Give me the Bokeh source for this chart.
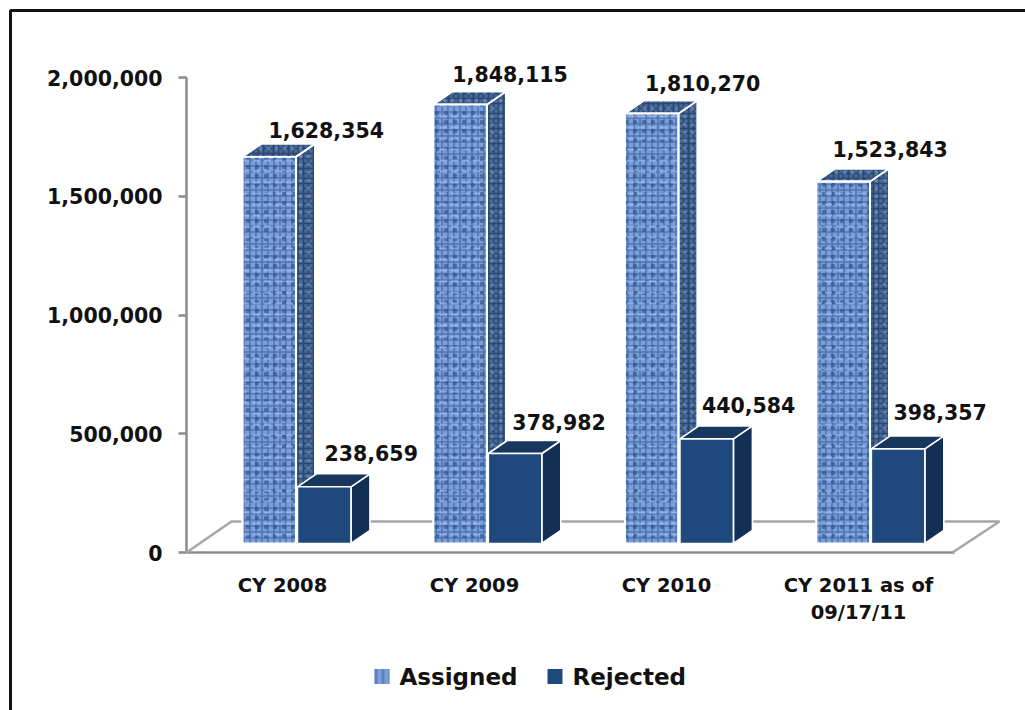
from bokeh.plotting import figure
from bokeh.embed import file_html
from bokeh.resources import INLINE
from bokeh.core.properties import value
from bokeh.models import ColumnDataSource, FixedTicker, NumeralTickFormatter, Range1d

categories = ["CY 2008", "CY 2009", "CY 2010", "CY 2011 as of\n09/17/11"]
assigned = [1628354, 1848115, 1810270, 1523843]
rejected = [238659, 378982, 440584, 398357]
y_ticks = [0, 500000, 1000000, 1500000, 2000000]
series_names = ["Assigned", "Rejected"]

PX_Y = 2000000 / 475      # data units per pixel, y
PX_X = 4 / 768            # data units per pixel, x
BASE = 9 * PX_Y           # front face is lifted off the axis
DX, DY = 19 * PX_X, 13 * PX_Y
FDX, FDY = 45 * PX_X, 31 * PX_Y
BAR = 53.5 * PX_X
GROUP = [0.574, 0.568, 0.566, 0.563]   # centre of each bar pair inside its category
GAP = 1.5 * PX_X

p = figure(width=1025, height=710, output_backend="svg", toolbar_location=None,
           x_range=Range1d(0, 4), y_range=Range1d(0, 2000000),
           min_border_left=186, min_border_right=71, min_border_top=77, min_border_bottom=158,
           background_fill_color="white", border_fill_color="white", outline_line_color=None)
p.grid.visible = False

FONT = "DejaVu Sans"
AXIS = "#8c8c8c"

p.yaxis.ticker = FixedTicker(ticks=y_ticks)
p.yaxis.formatter = NumeralTickFormatter(format="0,0")
p.yaxis.major_label_text_font = FONT
p.yaxis.major_label_text_font_size = "20.5px"
p.yaxis.major_label_text_font_style = "bold"
p.yaxis.major_label_text_color = "#111111"
p.yaxis.major_label_standoff = 16
p.yaxis.major_tick_out = 8
p.yaxis.major_tick_in = 0
p.yaxis.minor_tick_line_color = None

centres = [i + 0.5 for i in range(len(categories))]
p.xaxis.ticker = FixedTicker(ticks=centres, minor_ticks=list(range(len(categories) + 1)))
p.xaxis.major_label_overrides = dict(zip(centres, categories))
p.xaxis.major_label_text_font = FONT
p.xaxis.major_label_text_font_size = "19.5px"
p.xaxis.major_label_text_font_style = "bold"
p.xaxis.major_label_text_color = "#111111"
p.xaxis.major_label_standoff = 12
p.xaxis.major_tick_line_color = None
p.xaxis.minor_tick_out = 9
p.xaxis.minor_tick_in = 0
for ax in (p.xaxis, p.yaxis):
    ax.axis_line_color = AXIS
    ax.axis_line_width = 2.5
    ax.minor_tick_line_color = AXIS if ax is p.xaxis else None
    ax.minor_tick_line_width = 2.5
    ax.major_tick_line_width = 2.5
p.yaxis.major_tick_line_color = AXIS

# chart-area border: runs along the top and left of the picture
p.line([(10 - 186) * PX_X, (10 - 186) * PX_X, (1025 - 186) * PX_X],
       [(552 - 710) * PX_Y, (552 - 10) * PX_Y, (552 - 10) * PX_Y],
       line_color="#111111", line_width=3, level="overlay")

# floor
p.line([0, FDX, 4 + FDX, 4 - 2 * PX_X], [0, FDY, FDY, 0], line_color="#a6a6a6", line_width=2.5, level="overlay")

WHITE = dict(line_color="white", line_width=1.6, level="overlay")


def faces(lefts, tops):
    top = dict(xs=[[l, l + DX, l + BAR + DX, l + BAR] for l in lefts],
               ys=[[t, t + DY, t + DY, t] for t in tops])
    side = dict(xs=[[l + BAR, l + BAR + DX, l + BAR + DX, l + BAR] for l in lefts],
                ys=[[BASE, BASE + DY, t + DY, t] for l, t in zip(lefts, tops)])
    return top, side


a_left = [i + g - BAR - GAP / 2 for i, g in enumerate(GROUP)]
r_left = [i + g + GAP / 2 for i, g in enumerate(GROUP)]
a_top = [v + BASE for v in assigned]
r_top = [v + BASE for v in rejected]

weave_a = dict(hatch_pattern="cross", hatch_scale=6, hatch_weight=1.6, hatch_color="#2a5494", hatch_alpha=0.55)
weave_b = dict(hatch_pattern="dot", hatch_scale=9, hatch_weight=3, hatch_color="#1f4585", hatch_alpha=0.55)
weave_c = dict(hatch_pattern="horizontal_dash", hatch_scale=11, hatch_weight=2, hatch_color="#a6c3f0", hatch_alpha=0.65)
dark_a = dict(hatch_pattern="cross", hatch_scale=5, hatch_weight=1.6, hatch_color="#1b3760", hatch_alpha=0.7)
dark_b = dict(hatch_pattern="dot", hatch_scale=8, hatch_weight=2.5, hatch_color="#8da6cc", hatch_alpha=0.5)

t, s = faces(a_left, a_top)
for kw in (dict(fill_color="#486a9b", **dark_a), dict(fill_alpha=0, **dark_b)):
    p.patches(**s, **kw, **WHITE)
for kw in (dict(fill_color="#466898", **dark_a), dict(fill_alpha=0, **dark_b)):
    p.patches(**t, **kw, **WHITE)
a_right = [l + BAR for l in a_left]
p.quad(left=a_left, right=a_right, bottom=[BASE] * 4, top=a_top,
       fill_color="#7c9fda", **weave_a, **WHITE)
for w in (weave_b, weave_c):
    p.quad(left=a_left, right=a_right, bottom=[BASE] * 4, top=a_top, fill_alpha=0, **w, **WHITE)

t, s = faces(r_left, r_top)
p.patches(**s, fill_color="#132f55", **WHITE)
p.patches(**t, fill_color="#17375e", **WHITE)
p.quad(left=r_left, right=[l + BAR for l in r_left], bottom=[BASE] * 4, top=r_top,
       fill_color="#1f497d", **WHITE)

# value labels
fmt = lambda v: f"{v:,}"
src = ColumnDataSource(dict(
    x=[l + BAR / 2 for l in a_left + r_left],
    y=a_top + r_top,
    t=[fmt(v) for v in assigned + rejected],
    dx=[57, 50, 51, 47, 47, 44, 42, 42],
    dy=[-27, -31, -31, -33, -34, -31, -34, -37],
))
p.text(x="x", y="y", text="t", x_offset="dx", y_offset="dy", source=src, text_align="center",
       text_baseline="middle", text_font=value(FONT), text_font_style="bold", text_font_size="20.5px",
       text_color="#111111", level="overlay")

# legend, placed below the chart; swatches are short thick strokes
LEG_Y = (552 - 676) * PX_Y
sw_a = [(374 - 186) * PX_X, (389 - 186) * PX_X]
sw_r = [(547 - 186) * PX_X, (562 - 186) * PX_X]
p.line(sw_a, [LEG_Y, LEG_Y], line_width=15, line_color="#7c9fda", line_cap="butt", level="overlay")
p.line(sw_a, [LEG_Y, LEG_Y], line_width=15, line_color="#2a5494", line_alpha=0.4,
       line_dash="3 4", line_cap="butt", level="overlay")
p.line(sw_r, [LEG_Y, LEG_Y], line_width=15, line_color="#1f497d", line_cap="butt", level="overlay")
p.text(x=[(399 - 186) * PX_X, (572 - 186) * PX_X], y=[LEG_Y, LEG_Y], text=series_names,
       text_align="left", text_baseline="middle", text_font=value(FONT), text_font_style="bold",
       text_font_size="23px", text_color="#111111", level="overlay")

open("out.html", "w").write(file_html(p, INLINE))
